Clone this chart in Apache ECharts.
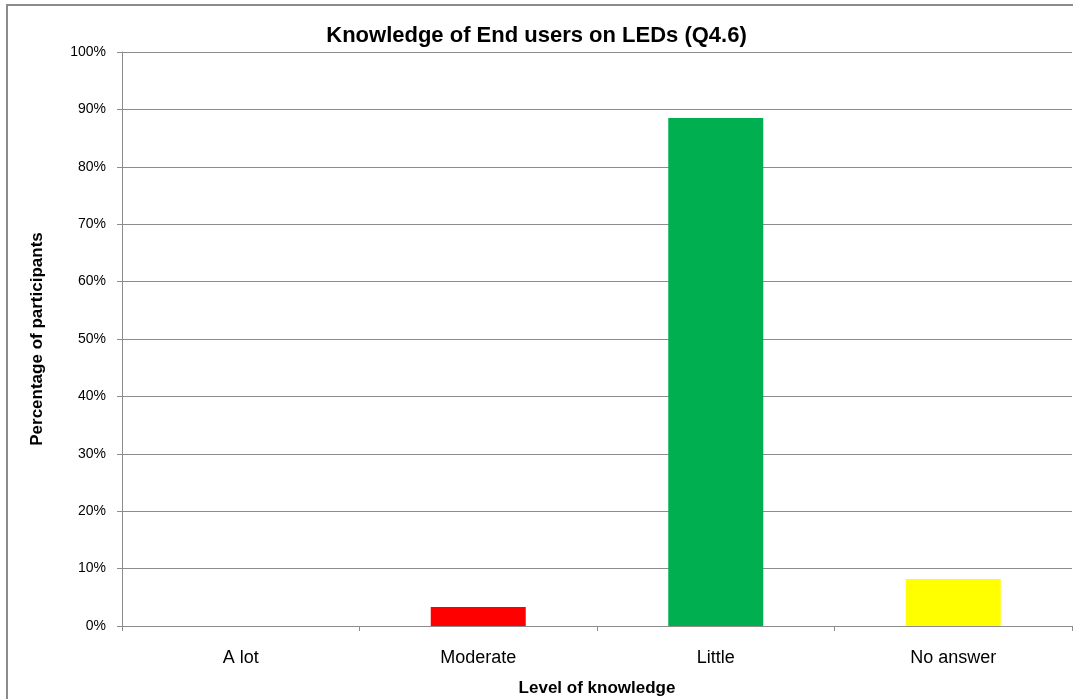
<!DOCTYPE html>
<html>
<head>
    <meta charset="utf-8">
    <script src="https://cdn.jsdelivr.net/npm/echarts@6/dist/echarts.min.js"></script>
    <style type="text/css">
        html, body { margin: 0; padding: 0; background: #fff; }
    </style>
</head>
<body>
    <div id="main" style="width: 1073px;height:699px;"></div>
    <script type="text/javascript">
        // data
        var categories = ['A lot', 'Moderate', 'Little', 'No answer'];
        var percents = [0, 3.3, 88.5, 8.2];
        var barColors = ['#4F81BD', '#FF0000', '#00B050', '#FFFF00'];
        var yTicks = [0, 10, 20, 30, 40, 50, 60, 70, 80, 90, 100];

        var font = 'Liberation Sans';
        var myChart = echarts.init(document.getElementById('main'));

        var data = [];
        for (var i = 0; i < categories.length; i++) {
            data.push({ value: percents[i], itemStyle: { color: barColors[i] } });
        }

        var option = {
            backgroundColor: '#fff',
            animation: false,
            title: {
                text: 'Knowledge of End users on LEDs (Q4.6)',
                left: 'center',
                top: 20,
                textStyle: { fontFamily: font, fontSize: 22, fontWeight: 'bold', color: '#000' }
            },
            graphic: [{
                type: 'rect',
                shape: { x: 7, y: 5, width: 1100, height: 720 },
                style: { fill: 'none', stroke: '#8c8c8c', lineWidth: 2 }
            }],
            grid: { left: 122, right: 1, top: 52, bottom: 73, outerBoundsMode: 'none', containLabel: false },
            xAxis: {
                type: 'category',
                data: categories,
                name: 'Level of knowledge',
                nameLocation: 'middle',
                nameGap: 54,
                nameTextStyle: { fontFamily: font, fontSize: 17, fontWeight: 'bold', color: '#000' },
                axisLine: { lineStyle: { color: '#8c8c8c', width: 1 } },
                axisTick: { show: true, length: 5, lineStyle: { color: '#8c8c8c' } },
                axisLabel: { margin: 23, fontFamily: font, fontSize: 18, color: '#000' }
            },
            yAxis: {
                type: 'value',
                min: 0,
                max: 100,
                interval: 10,
                name: 'Percentage of participants',
                nameLocation: 'middle',
                nameGap: 76,
                nameTextStyle: { fontFamily: font, fontSize: 17, fontWeight: 'bold', color: '#000' },
                axisLine: { show: true, lineStyle: { color: '#8c8c8c', width: 1 } },
                axisTick: { show: true, length: 5, lineStyle: { color: '#8c8c8c' } },
                axisLabel: {
                    margin: 16, fontFamily: font, fontSize: 14, color: '#000',
                    formatter: function (v) { return yTicks.indexOf(v) >= 0 ? v + '%' : ''; }
                },
                splitLine: { lineStyle: { color: '#8c8c8c', width: 1 } }
            },
            series: [{
                type: 'bar',
                barCategoryGap: '60%',
                data: data
            }]
        };
        myChart.setOption(option);
    </script>
</body>
</html>
